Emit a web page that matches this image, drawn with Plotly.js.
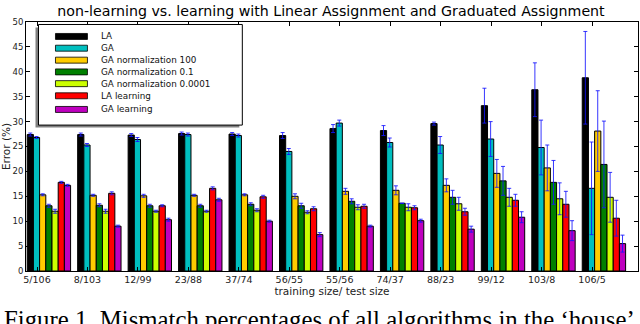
<!DOCTYPE html>
<html>
<head>
<meta charset="utf-8">
<script src="https://cdn.plot.ly/plotly-3.0.1.min.js"></script>
<style>html,body{margin:0;padding:0;background:#fff;}#chart{width:640px;height:324px;}</style>
</head>
<body>
<div id="chart"></div>
<script>
const categories = ['5/106','8/103','12/99','23/88','37/74','56/55','55/56','74/37','88/23','99/12','103/8','106/5'];
const seriesNames = ['LA','GA','GA normalization 100','GA normalization 0.1','GA normalization 0.0001','LA learning','GA learning'];
const seriesColors = ['#000000','#00bfbf','#ffcc00','#008000','#ccff00','#ff0000','#bf00bf'];

const laValues      = [27.4, 27.4, 27.3, 27.6, 27.5, 27.2, 28.6, 28.2, 29.6, 33.2, 36.4, 38.8];
const gaValues      = [26.8, 25.3, 26.4, 27.4, 27.2, 24.0, 29.7, 25.8, 25.3, 26.5, 24.8, 16.6];
const ga100Values   = [15.3, 15.2, 15.1, 15.2, 15.3, 15.0, 16.0, 16.2, 17.2, 19.6, 20.7, 28.1];
const ga01Values    = [13.1, 13.2, 13.1, 13.1, 13.4, 13.1, 14.0, 13.6, 14.8, 18.1, 17.8, 21.4];
const ga00001Values = [12.0, 12.0, 12.0, 12.0, 12.2, 11.8, 12.8, 12.8, 13.5, 14.8, 14.5, 14.8];
const laLearnValues = [17.8, 15.6, 13.1, 16.6, 14.9, 12.5, 13.0, 12.7, 11.9, 14.2, 13.4, 10.6];
const gaLearnValues = [17.2, 9.0, 10.3, 14.3, 10.0, 7.3, 9.0, 10.1, 8.4, 10.8, 8.1, 5.5];

const laErr      = [0.3, 0.3, 0.3, 0.3, 0.3, 0.6, 0.8, 1.0, 0.3, 3.5, 5.4, 9.3];
const gaErr      = [0.2, 0.3, 0.4, 0.3, 0.3, 0.6, 0.6, 0.9, 1.7, 3.5, 5.5, 9.3];
const ga100Err   = [0.2, 0.2, 0.3, 0.2, 0.2, 0.5, 0.6, 0.9, 1.3, 2.8, 4.6, 8.1];
const ga01Err    = [0.3, 0.3, 0.3, 0.3, 0.3, 0.5, 0.5, 0.0, 1.4, 2.9, 4.4, 8.7];
const ga00001Err = [0.4, 0.4, 0.2, 0.2, 0.3, 0.3, 0.5, 0.7, 1.3, 1.8, 3.2, 5.0];
const laLearnErr = [0.2, 0.3, 0.2, 0.3, 0.3, 0.4, 0.4, 0.4, 0.7, 1.2, 2.6, 3.6];
const gaLearnErr = [0.2, 0.2, 0.3, 0.3, 0.2, 0.4, 0.2, 0.3, 0.6, 1.1, 2.0, 1.7];

const yTickValues = [0, 5, 10, 15, 20, 25, 30, 35, 40, 45, 50];

const allValues = [laValues, gaValues, ga100Values, ga01Values, ga00001Values, laLearnValues, gaLearnValues];
const allErrors = [laErr, gaErr, ga100Err, ga01Err, ga00001Err, laLearnErr, gaLearnErr];

// plot area in pixels
const L = 25.5, R = 638, T = 21.5, B = 271.5;
const W = 640, H = 324;
const px = p => (p - L) / (R - L);
const py = p => (B - p) / (B - T);

const barW = 0.1228;
const groupStart = -0.194;

const traces = seriesNames.map((name, k) => ({
  type: 'bar',
  name: name,
  x: categories,
  y: allValues[k],
  width: barW,
  offset: groupStart + k * barW,
  marker: {color: seriesColors[k], line: {color: '#000000', width: 1}},
  error_y: {type: 'data', array: allErrors[k], visible: true, color: 'rgba(20,20,255,0.85)', thickness: 1, width: 2},
  showlegend: false,
  hoverinfo: 'skip'
}));

// custom legend (matplotlib-like, with shadow)
const rowY = [36, 47.8, 59.8, 71.6, 83.4, 95.6, 109.3];
const shapes = [
  {type: 'rect', xref: 'paper', yref: 'paper', x0: px(35), x1: px(239), y0: py(127.5), y1: py(27), fillcolor: '#808080', line: {width: 0}, layer: 'above'},
  {type: 'rect', xref: 'paper', yref: 'paper', x0: px(38), x1: px(242), y0: py(125), y1: py(24), fillcolor: '#ffffff', line: {color: '#000000', width: 1}, layer: 'above'}
];
const annotations = [];
seriesNames.forEach((name, k) => {
  shapes.push({type: 'rect', xref: 'paper', yref: 'paper', x0: px(55), x1: px(87), y0: py(rowY[k] + 3), y1: py(rowY[k] - 3),
    fillcolor: seriesColors[k], line: {color: '#000000', width: 0.8}, layer: 'above'});
  annotations.push({xref: 'paper', yref: 'paper', x: px(99), y: py(rowY[k]), xanchor: 'left', yanchor: 'middle',
    text: name, showarrow: false, font: {family: 'DejaVu Sans', size: 8.8, color: '#111'}});
});
annotations.push({xref: 'paper', yref: 'paper', x: px(1), y: py(305), xanchor: 'left', yanchor: 'top',
  text: 'Figure 1. Mismatch percentages of all algorithms in the \u2018house\u2019', showarrow: false,
  font: {family: 'Liberation Serif', size: 24.8, color: '#000'}});

const layout = {
  width: W, height: H,
  margin: {l: L, r: W - R, t: T, b: H - B, pad: 0},
  paper_bgcolor: '#ffffff', plot_bgcolor: '#ffffff',
  barmode: 'overlay',
  title: {text: 'non-learning vs. learning with Linear Assignment and Graduated Assignment',
    font: {family: 'DejaVu Sans', size: 14.2, color: '#000'}, x: 331 / W, xanchor: 'center', y: 1 - 11.5 / H, yanchor: 'middle'},
  xaxis: {
    type: 'category', range: [-0.218, 11.911],
    showline: true, linecolor: '#000', linewidth: 1, mirror: 'allticks',
    ticks: 'inside', ticklen: 4, tickcolor: '#000',
    tickfont: {family: 'DejaVu Sans', size: 9.5, color: '#222'},
    showgrid: false, zeroline: false,
    title: {text: 'training size/ test size', font: {family: 'DejaVu Sans', size: 10.5, color: '#222'}, standoff: 1}
  },
  yaxis: {
    range: [0, 50], tickvals: yTickValues, ticktext: yTickValues.map(String),
    showline: true, linecolor: '#000', linewidth: 1, mirror: 'allticks',
    ticks: 'inside', ticklen: 4, tickcolor: '#000',
    tickfont: {family: 'DejaVu Sans', size: 8.5, color: '#222'},
    showgrid: false, zeroline: false,
    title: {text: 'Error (%)', font: {family: 'DejaVu Sans', size: 10.5, color: '#222'}, standoff: 2}
  },
  shapes: shapes,
  annotations: annotations,
  showlegend: false
};

Plotly.newPlot('chart', traces, layout, {displayModeBar: false, staticPlot: true});
</script>
</body>
</html>
